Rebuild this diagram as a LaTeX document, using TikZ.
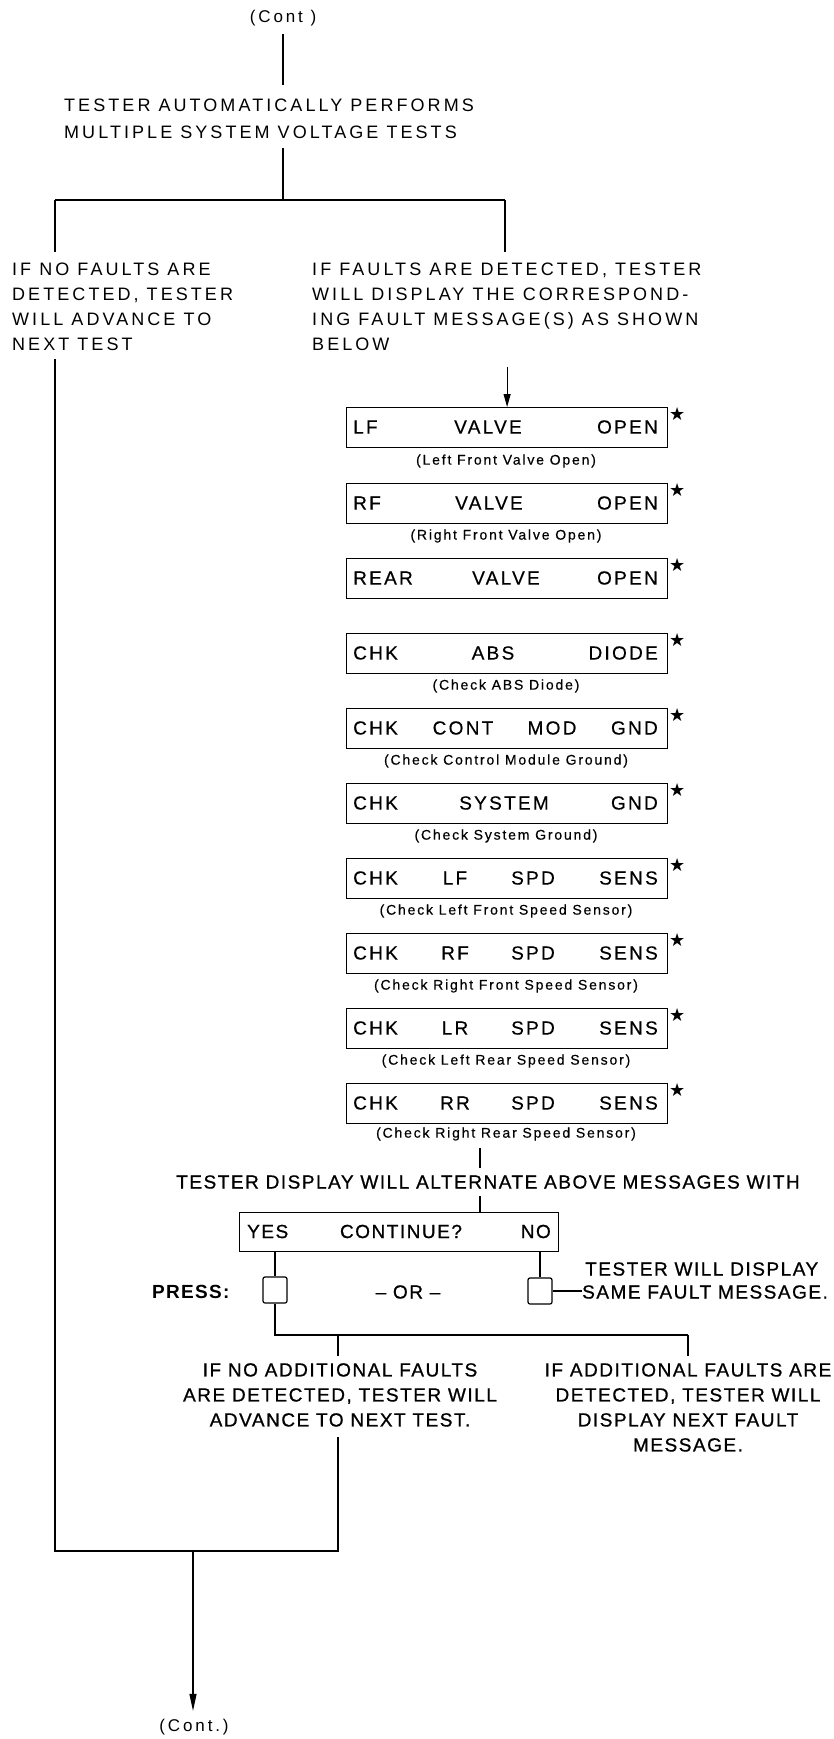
\documentclass[tikz,border=0pt]{standalone}
\usepackage{fontspec}
\setmainfont{Liberation Sans}
\newfontfamily\fmain{Liberation Sans}[LetterSpace=17]
\newfontfamily\fboxt{Liberation Sans}[LetterSpace=12,FakeBold=0.4]
\newfontfamily\fcapt{Liberation Sans}[LetterSpace=13,FakeBold=0.4]
\newfontfamily\flow{Liberation Sans}[LetterSpace=8,FakeBold=0.8]
\newfontfamily\fpress{Liberation Sans}[LetterSpace=7]
\newfontfamily\fsym{DejaVu Sans}
\usetikzlibrary{arrows.meta,calc}
\tikzset{
  ln/.style={line width=1.2pt},
  txt/.style={inner sep=0pt,align=left,font=\fmain\fontsize{18}{25}\selectfont},
  ctxt/.style={inner sep=0pt,font=\fmain\fontsize{17}{20}\selectfont},
  bt/.style={inner sep=0pt,font=\fboxt\fontsize{19}{22}\selectfont},
  capt/.style={inner sep=0pt,font=\fcapt\fontsize{14}{16}\selectfont},
  lowt/.style={inner sep=0pt,font=\flow\fontsize{19}{25}\selectfont},
  pressst/.style={inner sep=0pt,font=\fpress\bfseries\fontsize{19}{22}\selectfont},
  msg/.style={draw,line width=1.2pt,minimum width=321pt,minimum height=40pt,inner sep=0pt},
  yesbx/.style={draw,line width=1.2pt,minimum width=319pt,minimum height=39pt,inner sep=0pt},
  btn/.style={draw,line width=1.2pt,minimum width=24pt,minimum height=26pt,inner sep=0pt,rounded corners=2pt},
  starst/.style={inner sep=0pt,font=\fsym\fontsize{18}{20}\selectfont},
  arr/.style={line width=1.2pt,-{Triangle[length=13pt,width=7pt]}}
}
\newcommand{\msgbox}[2]{%
  \node[msg,anchor=north west] (#1) at (346,-#2) {};
  \node[starst] (#1s) at ($(#1.north east)+(9,-7)$) {★};
}
\begin{document}
\begin{tikzpicture}[x=1pt,y=1pt]
\path[fill=white] (0,0) rectangle (834,-1739);
\useasboundingbox (0,0) rectangle (834,-1739);

% top
\node[ctxt] (cont1) at (283,-18) {(Cont )};
\node[txt,anchor=north west,font=\fmain\fontsize{18}{26.5}\selectfont] (t1) at (64,-99) {TESTER AUTOMATICALLY PERFORMS\\MULTIPLE SYSTEM VOLTAGE TESTS};
\coordinate (sT) at (283,-200);
\coordinate (sL) at (55,-200);
\coordinate (sR) at (505,-200);
\draw[ln] ($(cont1.south)+(0,-8)$) -- ($(t1.north -| cont1)+(0,14)$);
\draw[ln] ($(t1.south -| sT)+(0,-9)$) -- (sT);
\draw[ln] (sL) -- (sR);

\node[txt,anchor=north west] (t2) at (12,-263) {IF NO FAULTS ARE\\DETECTED, TESTER\\WILL ADVANCE TO\\NEXT TEST};
\node[txt,anchor=north west] (t3) at (312,-263) {IF FAULTS ARE DETECTED, TESTER\\WILL DISPLAY THE CORRESPOND-\\ING FAULT MESSAGE(S) AS SHOWN\\BELOW};
\draw[ln] (sL) -- ($(t2.north -| sL)+(0,11)$);
\draw[ln] (sR) -- ($(t3.north -| sR)+(0,11)$);

% message boxes
\msgbox{b1}{407}
\msgbox{b2}{483}
\msgbox{b3}{558}
\msgbox{b4}{633}
\msgbox{b5}{708}
\msgbox{b6}{783}
\msgbox{b7}{858}
\msgbox{b8}{933}
\msgbox{b9}{1008}
\msgbox{b10}{1083}

\draw[arr] ($(t3.south -| b1)+(0,-16)$) -- (b1.north);

\node[bt,anchor=west] (b1x) at (353,-427) {LF};
\node[bt] (b1y) at (488,-427) {VALVE};
\node[bt,anchor=east] (b1z) at (658,-427) {OPEN};
\node[capt] (c1) at (506,-461) {(Left Front Valve Open)};

\node[bt,anchor=west] (b2x) at (353,-503) {RF};
\node[bt] (b2y) at (489,-503) {VALVE};
\node[bt,anchor=east] (b2z) at (658,-503) {OPEN};
\node[capt] (c2) at (506,-536) {(Right Front Valve Open)};

\node[bt,anchor=west] (b3x) at (353,-578) {REAR};
\node[bt] (b3y) at (506,-578) {VALVE};
\node[bt,anchor=east] (b3z) at (658,-578) {OPEN};

\node[bt,anchor=west] (b4x) at (353,-653) {CHK};
\node[bt] (b4y) at (493,-653) {ABS};
\node[bt,anchor=east] (b4z) at (658,-653) {DIODE};
\node[capt] (c4) at (506,-686) {(Check ABS Diode)};

\node[bt,anchor=west] (b5x) at (353,-728) {CHK};
\node[bt] (b5y) at (463,-728) {CONT};
\node[bt] (b5w) at (552,-728) {MOD};
\node[bt,anchor=east] (b5z) at (658,-728) {GND};
\node[capt] (c5) at (506,-761) {(Check Control Module Ground)};

\node[bt,anchor=west] (b6x) at (353,-803) {CHK};
\node[bt] (b6y) at (504,-803) {SYSTEM};
\node[bt,anchor=east] (b6z) at (658,-803) {GND};
\node[capt] (c6) at (506,-836) {(Check System Ground)};

\node[bt,anchor=west] (b7x) at (353,-878) {CHK};
\node[bt] (b7y) at (455,-878) {LF};
\node[bt] (b7w) at (533,-878) {SPD};
\node[bt,anchor=east] (b7z) at (658,-878) {SENS};
\node[capt] (c7) at (506,-911) {(Check Left Front Speed Sensor)};

\node[bt,anchor=west] (b8x) at (353,-953) {CHK};
\node[bt] (b8y) at (455,-953) {RF};
\node[bt] (b8w) at (533,-953) {SPD};
\node[bt,anchor=east] (b8z) at (658,-953) {SENS};
\node[capt] (c8) at (506,-986) {(Check Right Front Speed Sensor)};

\node[bt,anchor=west] (b9x) at (353,-1028) {CHK};
\node[bt] (b9y) at (455,-1028) {LR};
\node[bt] (b9w) at (533,-1028) {SPD};
\node[bt,anchor=east] (b9z) at (658,-1028) {SENS};
\node[capt] (c9) at (506,-1061) {(Check Left Rear Speed Sensor)};

\node[bt,anchor=west] (b10x) at (353,-1103) {CHK};
\node[bt] (b10y) at (455,-1103) {RR};
\node[bt] (b10w) at (533,-1103) {SPD};
\node[bt,anchor=east] (b10z) at (658,-1103) {SENS};
\node[capt] (c10) at (506,-1134) {(Check Right Rear Speed Sensor)};

% lower part
\coordinate (jx) at (480,0);
\node[lowt] (talt) at (488,-1182) {TESTER DISPLAY WILL ALTERNATE ABOVE MESSAGES WITH};
\draw[ln] ($(c10.south -| jx)+(0,-7)$) -- ($(talt.north -| jx)+(0,7)$);
\node[yesbx,anchor=north west] (yesbox) at (239,-1212) {};
\draw[ln] ($(talt.south -| jx)+(0,-7)$) -- (yesbox.north -| jx);
\node[lowt,anchor=west] (yes) at (247,-1231.5) {YES};
\node[lowt] (contq) at (401,-1231.5) {CONTINUE?};
\node[lowt,anchor=east] (no) at (551,-1231.5) {NO};

\node[btn] (yesbtn) at (275,-1290) {};
\node[btn] (nobtn) at (540,-1291) {};
\draw[ln] (yesbox.south -| yesbtn) -- (yesbtn.north);
\draw[ln] (yesbox.south -| nobtn) -- (nobtn.north);
\node[pressst,anchor=west] (press) at (152,-1292) {PRESS:};
\node[lowt] (orx) at (408,-1292) {– OR –};
\node[lowt,anchor=west] (tw1) at (585,-1269) {TESTER WILL DISPLAY};
\node[lowt,anchor=west] (tw2) at (582,-1292) {SAME FAULT MESSAGE.};
\draw[ln] (nobtn.east) -- (tw2.west |- nobtn.east);

\coordinate (nj) at (688,-1335);
\draw[ln] (yesbtn.south) -- (yesbtn.south |- nj) -- (nj);
\node[lowt,anchor=north,align=center] (tnoadd) at (340,-1363) {IF NO ADDITIONAL FAULTS\\ARE DETECTED, TESTER WILL\\ADVANCE TO NEXT TEST.};
\node[lowt,anchor=north,align=center] (tadd) at (688,-1363) {IF ADDITIONAL FAULTS ARE\\DETECTED, TESTER WILL\\DISPLAY NEXT FAULT\\MESSAGE.};
\coordinate (bx) at (338,0);
\draw[ln] (bx |- nj) -- ($(tnoadd.north -| bx)+(0,7)$);
\draw[ln] (nj) -- ($(tadd.north -| nj)+(0,7)$);

% bottom
\coordinate (cBL) at (53,-1551);
\coordinate (cBR) at (338,-1551);
\coordinate (cBM) at (193,-1551);
\draw[ln] ($(t2.south -| sL)+(0,-8)$) -- (sL |- cBL) -- (cBR) -- ($(tnoadd.south -| bx)+(0,-10)$);
\node[ctxt] (cont2) at (194,-1727) {(Cont.)};
\draw[arr,-{Triangle[length=17pt,width=7pt]}] (cBM) -- ($(cont2.north -| cBM)+(0,8)$);
\end{tikzpicture}
\end{document}
